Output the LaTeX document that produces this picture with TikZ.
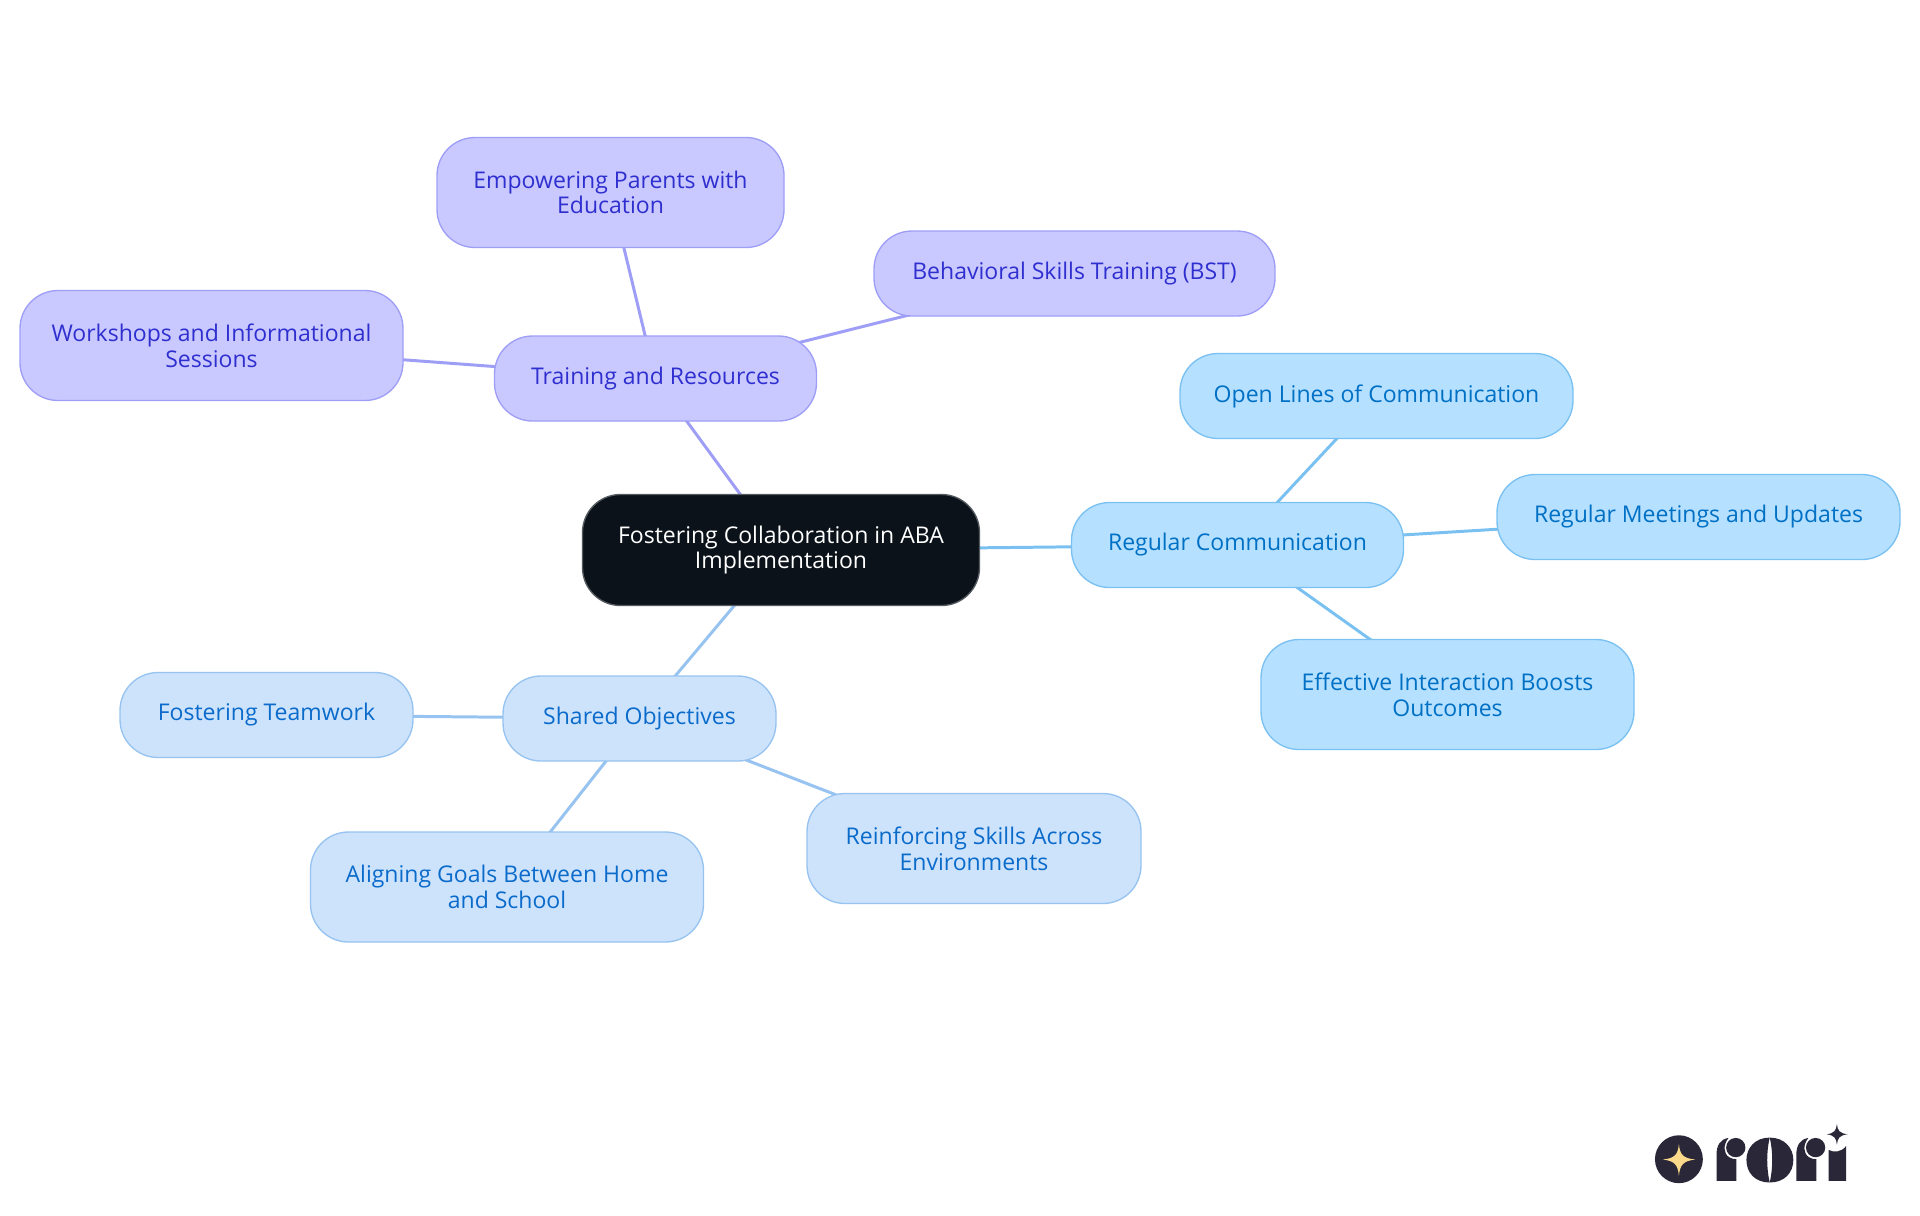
\documentclass[tikz,border=0pt]{standalone}
\usepackage{fontspec}
\setmainfont{Open Sans}
\usetikzlibrary{backgrounds}
\definecolor{rootfill}{HTML}{0B1219}
\definecolor{rootline}{HTML}{555A60}
\definecolor{purplefill}{HTML}{C9C9FF}
\definecolor{purpleline}{HTML}{9E9EF7}
\definecolor{purpletext}{HTML}{2F2FD0}
\definecolor{skyfill}{HTML}{B5E0FF}
\definecolor{skyline}{HTML}{7AC1F2}
\definecolor{skytext}{HTML}{0070C4}
\definecolor{palefill}{HTML}{CDE3FC}
\definecolor{paleline}{HTML}{97C3F0}
\definecolor{paletext}{HTML}{0B6BCB}
\definecolor{logoink}{HTML}{2A2838}
\definecolor{logostar}{HTML}{FBD98A}
\tikzset{
  box/.style={draw, rounded corners=0.38cm, align=center, inner sep=0pt, line width=0.38pt,
    font=\fontsize{6.55pt}{7.3pt}\selectfont},
  rootbox/.style={box, fill=rootfill, draw=rootline, text=white},
  purplebox/.style={box, fill=purplefill, draw=purpleline, text=purpletext},
  skybox/.style={box, fill=skyfill, draw=skyline, text=skytext},
  palebox/.style={box, fill=palefill, draw=paleline, text=paletext},
  link/.style={line width=0.85pt}
}
\begin{document}
\begin{tikzpicture}
            \useasboundingbox (0, 0) rectangle (19.2, -12.15);

            \node (c0) at (7.81, -5.50) [rootbox, minimum width=3.97cm, minimum height=1.11cm] {Fostering Collaboration in ABA\\Implementation};

            \node (t0) at (6.555, -3.785) [purplebox, minimum width=3.22cm, minimum height=0.85cm] {Training and Resources};
            \node (t1) at (6.105, -1.925) [purplebox, minimum width=3.47cm, minimum height=1.10cm] {Empowering Parents with\\Education};
            \node (t2) at (10.745, -2.735) [purplebox, minimum width=4.01cm, minimum height=0.85cm] {Behavioral Skills Training (BST)};
            \node (t3) at (2.115, -3.455) [purplebox, minimum width=3.83cm, minimum height=1.10cm] {Workshops and Informational\\Sessions};

            \node (r0) at (12.375, -5.45) [skybox, minimum width=3.32cm, minimum height=0.85cm] {Regular Communication};
            \node (r1) at (13.765, -3.96) [skybox, minimum width=3.93cm, minimum height=0.85cm] {Open Lines of Communication};
            \node (r2) at (16.985, -5.17) [skybox, minimum width=4.03cm, minimum height=0.85cm] {Regular Meetings and Updates};
            \node (r3) at (14.475, -6.945) [skybox, minimum width=3.73cm, minimum height=1.10cm] {Effective Interaction Boosts\\Outcomes};

            \node (s0) at (6.395, -7.185) [palebox, minimum width=2.73cm, minimum height=0.85cm] {Shared Objectives};
            \node (s1) at (2.665, -7.15) [palebox, minimum width=2.93cm, minimum height=0.85cm] {Fostering Teamwork};
            \node (s2) at (5.07, -8.87) [palebox, minimum width=3.93cm, minimum height=1.10cm] {Aligning Goals Between Home\\and School};
            \node (s3) at (9.74, -8.485) [palebox, minimum width=3.34cm, minimum height=1.10cm] {Reinforcing Skills Across\\Environments};

            \begin{scope}[on background layer]
            \draw [link, purpleline] (c0.center) -- (t0.center);
            \draw [link, purpleline] (t0.center) -- (t1.center);
            \draw [link, purpleline] (t0.center) -- (t2.center);
            \draw [link, purpleline] (t0.center) -- (t3.center);
            \draw [link, skyline] (c0.center) -- (r0.center);
            \draw [link, skyline] (r0.center) -- (r1.center);
            \draw [link, skyline] (r0.center) -- (r2.center);
            \draw [link, skyline] (r0.center) -- (r3.center);
            \draw [link, paleline] (c0.center) -- (s0.center);
            \draw [link, paleline] (s0.center) -- (s1.center);
            \draw [link, paleline] (s0.center) -- (s2.center);
            \draw [link, paleline] (s0.center) -- (s3.center);
            \end{scope}

            % logo
            \begin{scope}[shift={(16.30, -11.00)}, x=0.003333cm, y=-0.003333cm]
            \fill [logoink] (147, 178) circle (72);
            \fill [logostar] (147, 132) .. controls (150, 165) and (160, 175) .. (196, 179) .. controls (160, 183) and (150, 195) .. (147, 228) .. controls (144, 195) and (134, 183) .. (99, 179) .. controls (134, 175) and (144, 165) .. (147, 132) -- cycle;
            \fill [logoink] (260, 243) -- (260, 165) .. controls (260, 135) and (272, 118) .. (296, 114) .. controls (280, 135) and (280, 160) .. (298, 172) .. controls (305, 176) and (312, 178) .. (320, 178) -- (320, 243) -- cycle;
            \fill [logoink] (318, 143) circle (29);
            \fill [logoink] (420, 113) .. controls (465, 113) and (491, 145) .. (491, 180) .. controls (491, 218) and (465, 248) .. (420, 248) .. controls (430, 205) and (430, 155) .. (420, 113) -- cycle;
            \fill [logoink] (420, 113) .. controls (375, 113) and (350, 145) .. (350, 180) .. controls (350, 218) and (375, 248) .. (420, 248) .. controls (410, 205) and (410, 155) .. (420, 113) -- cycle;
            \fill [logoink] (500, 243) -- (500, 165) .. controls (500, 135) and (512, 118) .. (536, 114) .. controls (520, 135) and (520, 160) .. (538, 172) .. controls (545, 176) and (552, 178) .. (560, 178) -- (560, 243) -- cycle;
            \fill [logoink] (558, 143) circle (29);
            \fill [logoink] (597, 243) -- (597, 150) .. controls (612, 158) and (635, 158) .. (650, 138) -- (650, 243) -- cycle;
            \fill [logoink] (622, 72) .. controls (624, 92) and (630, 100) .. (654, 103) .. controls (630, 106) and (624, 114) .. (622, 134) .. controls (620, 114) and (614, 106) .. (591, 103) .. controls (614, 100) and (620, 92) .. (622, 72) -- cycle;
            \end{scope}
        \end{tikzpicture}
\end{document}
